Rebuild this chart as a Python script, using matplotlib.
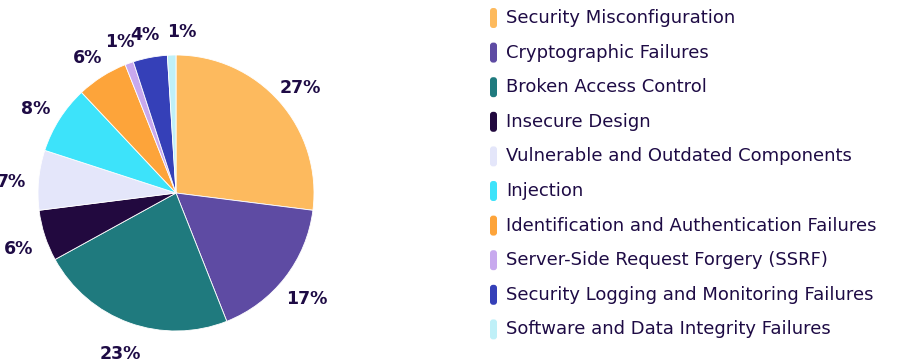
import matplotlib.pyplot as plt
from matplotlib.patches import FancyBboxPatch

categories = [
    "Security Misconfiguration",
    "Cryptographic Failures",
    "Broken Access Control",
    "Insecure Design",
    "Vulnerable and Outdated Components",
    "Injection",
    "Identification and Authentication Failures",
    "Server-Side Request Forgery (SSRF)",
    "Security Logging and Monitoring Failures",
    "Software and Data Integrity Failures",
]
shares = [27, 17, 23, 6, 7, 8, 6, 1, 4, 1]
colors = ["#FDBA5E", "#5E4BA3", "#1F7A7E", "#22093F", "#E4E6FA",
          "#3DE3FA", "#FDA43A", "#C8A9EE", "#3540B8", "#BFF0F8"]

TEXT = "#1E0B45"
W, H = 902, 363

fig = plt.figure(figsize=(W / 100, H / 100), dpi=100)
fig.patch.set_facecolor("white")

# pie axes: centre (176, 193) px from top-left, radius 138 px
cx, cy, r = 176, H - 193, 138
ax = fig.add_axes([(cx - r) / W, (cy - r) / H, 2 * r / W, 2 * r / H])
wedges, texts = ax.pie(
    shares, colors=colors, startangle=90, counterclock=False,
    labels=[f"{v}%" for v in shares], labeldistance=1.2,
    wedgeprops=dict(edgecolor="white", linewidth=0.6),
    textprops=dict(color=TEXT, fontsize=12.5, fontweight="bold", family="DejaVu Sans"),
)
for t in texts:
    t.set_ha("center")
    x, y = t.get_position()
    t.set_position((x, y - 0.035))
# last tiny slice label sits a bit to the right so it doesn't collide with 4%
x, y = texts[-1].get_position()
texts[-1].set_position((x + 0.08, y))
ax.set_xlim(-1, 1)
ax.set_ylim(-1, 1)
ax.axis("off")

# legend drawn by hand on a pixel-coordinate overlay
lax = fig.add_axes([0, 0, 1, 1], zorder=-1)
lax.set_xlim(0, W)
lax.set_ylim(H, 0)
lax.axis("off")
row0, step = 18, 34.6
for i, (name, col) in enumerate(zip(categories, colors)):
    yc = row0 + i * step
    lax.add_patch(FancyBboxPatch(
        (490, yc - 10), 7, 20, boxstyle="round,pad=0,rounding_size=3",
        facecolor=col, edgecolor="none"))
    lax.text(506, yc, name, color=TEXT, fontsize=13,
             family="DejaVu Sans", va="center", ha="left")

fig.savefig("out.png", dpi=100)
